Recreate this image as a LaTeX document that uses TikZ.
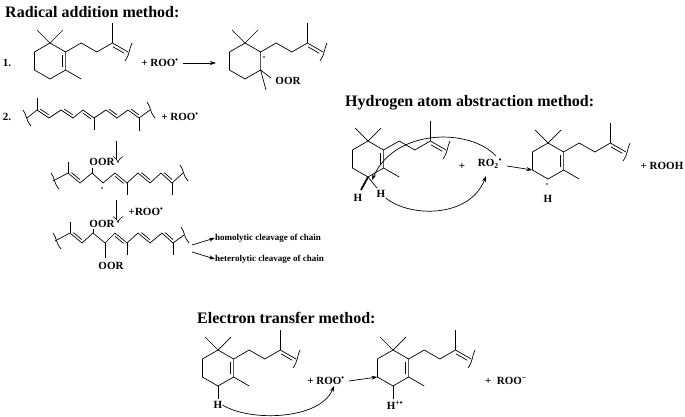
\documentclass[tikz,border=0pt]{standalone}
\usepackage{fontspec}
\setmainfont{Liberation Serif}
\usetikzlibrary{calc,arrows.meta}
\newcommand\rad{\textsuperscript{\textbullet}}
\newcommand\dbl[3]{\draw[bond] ($(#2)!0.15!(#3)!#1!90:(#3)$) -- ($(#3)!0.15!(#2)!#1!-90:(#2)$);}
\newcommand\molbase[2]{%
\begin{scope}[shift={(#1,#2)}]
\draw[bond] (-15.6,-9)--(0,-18)--(15.6,-9)--(15.6,9)--(0,18)--(-15.6,9)--cycle;
\draw[bond] (-13,-31)--(0,-18)--(13,-31);
\draw[bond] (15.6,-9)--(31.2,-18)--(46.8,-9)--(62.4,-18)--(78,-9);
\draw[bond] (62.4,-18)--(62.4,-38);
\draw[bond] (63.1,-14.1)--(74.3,-7.7);
\draw[bond] (82,-18) .. controls (79,-12) and (80,-7) .. (75,0);
\end{scope}}
\newcommand\ringdbl[2]{\draw[bond] ($(#1,#2)+(12.6,-6)$)--($(#1,#2)+(12.6,6)$);}
\newcommand\methyl[2]{\draw[bond] ($(#1,#2)+(15.6,9)$)--($(#1,#2)+(31.2,18)$);}
\newcommand\cutv[2]{\draw[bond] ($(#1,#2)+(-4,-8)$) .. controls ($(#1,#2)+(0,-3)$) and ($(#1,#2)+(-1,3)$) .. ($(#1,#2)+(4,8)$);}
\begin{document}
\begin{tikzpicture}[x=1pt,y=-1pt,
  bond/.style={line width=0.7pt},
  lbl/.style={font=\fontsize{11}{13}\selectfont\bfseries, inner sep=0pt},
  ttl/.style={font=\fontsize{16}{19}\selectfont\bfseries, inner sep=0pt, anchor=west},
  sm/.style={font=\fontsize{9}{11}\selectfont\bfseries, inner sep=0pt, anchor=west},
  arr/.style={line width=0.7pt,-{Stealth[length=6pt,width=4pt]}},
  darr/.style={double, double distance=3pt, line width=0.6pt, -{Implies[length=5pt]}}]
\useasboundingbox (0,0) rectangle (685,417);
% titles
\node[ttl] (t1) at (5,12) {Radical addition method:};
\node[ttl] (t2) at (345,103) {Hydrogen atom abstraction method:};
\node[ttl] (t3) at (197,318) {Electron transfer method:};
% row 1
\node[lbl] (n1) at (7,63) {1.};
\molbase{50}{61}\ringdbl{50}{61}\methyl{50}{61}
\node[lbl] (r1) at (160,63) {+ ROO\rad};
\coordinate (a1s) at (183,63); \coordinate (a1e) at (216,63);
\draw[arr] (a1s)--(a1e);
\molbase{245}{61}
\fill (264,57) circle (0.9pt);
\draw[bond] (260.6,70)--(266,90);
\draw[bond] (260.6,70)--(271,78);
\node[lbl] (oor0) at (288,81) {OOR};
% row 2 chain
\node[lbl] (n2) at (7,117) {2.};
\draw[bond] (27,118)--(37,110)--(49,118)--(61,110)--(73,118)--(83,110)--(94,118)--(106,110)--(117,118)--(128,110)--(139,118)--(150,110);
\dbl{2.5pt}{37,110}{49,118}\dbl{2.5pt}{61,110}{73,118}\dbl{-2.5pt}{83,110}{94,118}\dbl{2.5pt}{106,110}{117,118}\dbl{2.5pt}{128,110}{139,118}
\draw[bond] (37,110)--(37,98) (94,118)--(94,130) (139,118)--(139,131);
\cutv{27}{118}\cutv{151}{110}
\node[lbl] (r2) at (180,117) {+ ROO\rad};
\coordinate (d1s) at (118,141); \coordinate (d1e) at (118,163);
\draw[darr] (d1s)--(d1e);
% intermediate 1
\draw[bond] (53,181)--(68,173)--(80,183)--(92,173)--(103,183)--(115,173)--(127,183)--(138,173)--(150,183)--(161,173)--(172,183)--(183,173);
\dbl{2.5pt}{68,173}{80,183}\dbl{-2.5pt}{115,173}{127,183}\dbl{2.5pt}{138,173}{150,183}\dbl{2.5pt}{161,173}{172,183}
\draw[bond] (68,173)--(68,162) (92,173)--(92,168) (127,183)--(127,195) (172,183)--(172,195);
\cutv{55}{181}\cutv{184}{173}
\fill (102,188) circle (0.9pt);
\node[lbl] (oor1) at (102,162) {OOR};
\coordinate (d2s) at (118,200); \coordinate (d2e) at (118,223);
\draw[darr] (d2s)--(d2e);
\node[lbl] (r3) at (146,212) {+ROO\rad};
% intermediate 2
\draw[bond] (55,241)--(70,233)--(82,243)--(93,233)--(105,243)--(115,233)--(127,243)--(138,233)--(150,243)--(162,233)--(173,243)--(184,235);
\dbl{2.5pt}{70,233}{82,243}\dbl{-2.5pt}{115,233}{127,243}\dbl{2.5pt}{138,233}{150,243}\dbl{2.5pt}{162,233}{173,243}
\draw[bond] (70,233)--(70,222) (93,233)--(93,229) (105,243)--(105,258) (127,243)--(127,255) (173,243)--(173,255);
\cutv{57}{241}\cutv{185}{235}
\node[lbl] (oor2) at (102,224) {OOR};
\node[lbl] (oor3) at (111,266) {OOR};
\coordinate (c1s) at (192,245); \coordinate (c2s) at (192,252);
\node[sm] (homo) at (215,238) {homolytic cleavage of chain};
\node[sm] (hete) at (215,259) {heterolytic cleavage of chain};
\draw[arr] (c1s)--(homo.west);
\draw[arr] (c2s)--(hete.west);
% hydrogen abstraction
\molbase{368}{159}\ringdbl{368}{159}\methyl{368}{159}
\draw[line width=1.8pt] (368,177)--(361,190);
\draw[bond] (368,177)--(377,188);
\node[lbl] (h1) at (358,198) {H};
\node[lbl] (h2) at (381,194) {H};
\node[lbl] (p1) at (462,166) {+};
\node[lbl] (ro2) at (490,164) {RO\textsubscript{2}\rad};
\draw[arr] (496,156) .. controls (470,128) and (395,128) .. (372,180);
\draw[arr] (h2.south east) .. controls (410,218) and (470,218) .. (486,176);
\coordinate (a2s) at (507,166);
\molbase{548}{161}\ringdbl{548}{161}\methyl{548}{161}
\coordinate (b5) at (532.4,170);
\draw[arr] (a2s)--(b5);
\fill (547,184) circle (0.9pt);
\node[lbl] (h3) at (548,199) {H};
\node[lbl] (rooh) at (662,166) {+ ROOH};
% electron transfer
\molbase{218}{368}\ringdbl{218}{368}\methyl{218}{368}
\draw[bond] (218,386)--(218,399);
\node[lbl] (h4) at (218,405) {H};
\node[lbl] (r4) at (326,381) {+ ROO\rad};
\draw[arr] (h4.east) .. controls (250,422) and (320,420) .. (334,386);
\coordinate (a3s) at (349,381);
\molbase{393}{368}\ringdbl{393}{368}\methyl{393}{368}
\coordinate (d5) at (377.4,377);
\draw[arr] (a3s)--(d5);
\draw[bond] (393,386)--(393,399);
\node[lbl] (h5) at (395,405) {H\textsuperscript{+\textbullet}};
\node[lbl] (r5) at (506,381) {+ \ ROO\textsuperscript{−}};
\end{tikzpicture}
\end{document}
